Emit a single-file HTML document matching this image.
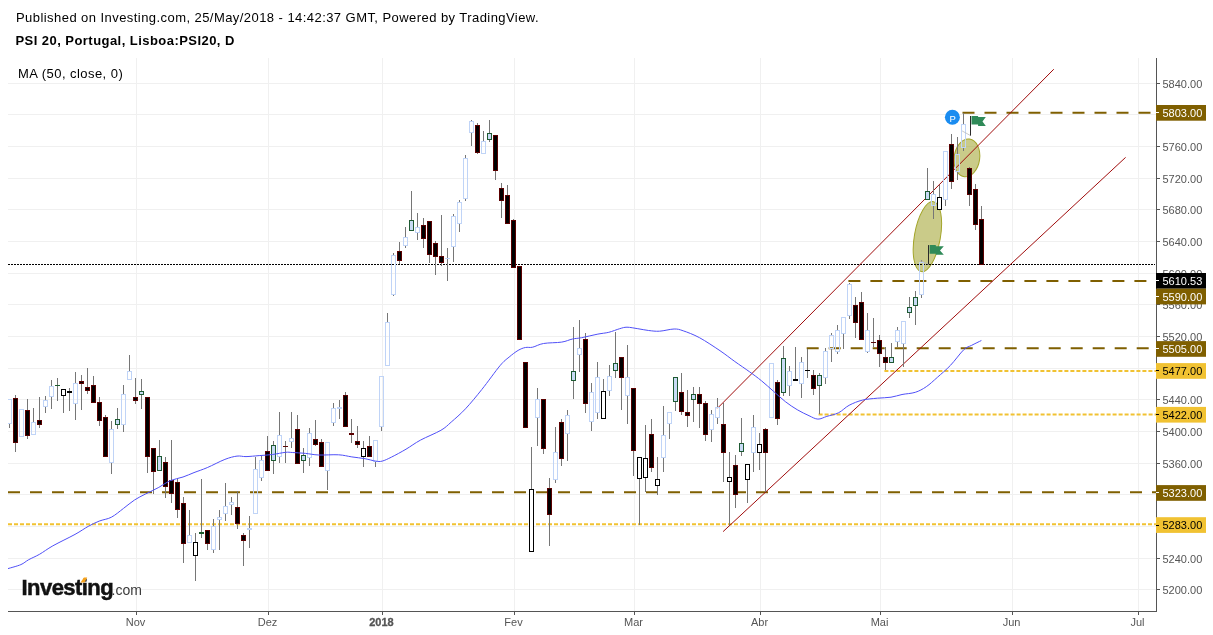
<!DOCTYPE html>
<html><head><meta charset="utf-8"><style>
html,body{margin:0;padding:0;background:#fff;}
body{width:1213px;height:635px;overflow:hidden;position:relative;font-family:"Liberation Sans",sans-serif;}
svg{position:absolute;left:0;top:0;will-change:transform;}
</style></head><body>
<svg width="1213" height="635" viewBox="0 0 1213 635">
<text x="16" y="22" font-family="Liberation Sans" font-size="13" letter-spacing="0.44" fill="#000">Published on Investing.com, 25/May/2018 - 14:42:37 GMT, Powered by TradingView.</text>
<text x="15.5" y="45" font-family="Liberation Sans" font-size="13" font-weight="bold" letter-spacing="0.45" fill="#000">PSI 20, Portugal, Lisboa:PSI20, D</text>
<g stroke="#f0f0f0" stroke-width="1"><line x1="8" y1="589.5" x2="1156" y2="589.5"/><line x1="8" y1="558.5" x2="1156" y2="558.5"/><line x1="8" y1="526.5" x2="1156" y2="526.5"/><line x1="8" y1="494.5" x2="1156" y2="494.5"/><line x1="8" y1="463.5" x2="1156" y2="463.5"/><line x1="8" y1="431.5" x2="1156" y2="431.5"/><line x1="8" y1="399.5" x2="1156" y2="399.5"/><line x1="8" y1="368.5" x2="1156" y2="368.5"/><line x1="8" y1="336.5" x2="1156" y2="336.5"/><line x1="8" y1="304.5" x2="1156" y2="304.5"/><line x1="8" y1="273.5" x2="1156" y2="273.5"/><line x1="8" y1="241.5" x2="1156" y2="241.5"/><line x1="8" y1="209.5" x2="1156" y2="209.5"/><line x1="8" y1="178.5" x2="1156" y2="178.5"/><line x1="8" y1="146.5" x2="1156" y2="146.5"/><line x1="8" y1="114.5" x2="1156" y2="114.5"/><line x1="8" y1="83.5" x2="1156" y2="83.5"/><line x1="136.5" y1="58" x2="136.5" y2="611"/><line x1="268.5" y1="58" x2="268.5" y2="611"/><line x1="382.5" y1="58" x2="382.5" y2="611"/><line x1="514.5" y1="58" x2="514.5" y2="611"/><line x1="634.5" y1="58" x2="634.5" y2="611"/><line x1="760.5" y1="58" x2="760.5" y2="611"/><line x1="880.5" y1="58" x2="880.5" y2="611"/><line x1="1012.5" y1="58" x2="1012.5" y2="611"/><line x1="1138.5" y1="58" x2="1138.5" y2="611"/></g>
<line x1="8" y1="492.2" x2="1156" y2="492.2" stroke="#7f5f00" stroke-width="2" stroke-dasharray="12 10"/>
<line x1="8" y1="524.3" x2="1156" y2="524.3" stroke="#f1c232" stroke-width="2" stroke-dasharray="4 2"/>
<ellipse cx="927.4" cy="236.6" rx="13" ry="35.5" transform="rotate(10 927.4 236.6)" fill="rgba(150,152,20,0.5)" stroke="#a3a52a" stroke-width="1"/>
<ellipse cx="966.9" cy="157.9" rx="12.8" ry="19" transform="rotate(8 966.9 157.9)" fill="rgba(150,152,20,0.5)" stroke="#a3a52a" stroke-width="1"/>
<line x1="962.5" y1="112.7" x2="1156" y2="112.7" stroke="#7f5f00" stroke-width="2" stroke-dasharray="12 10"/>
<line x1="848.4" y1="281.1" x2="1156" y2="281.1" stroke="#7f5f00" stroke-width="2" stroke-dasharray="12 10"/>
<line x1="806.7" y1="348.3" x2="1156" y2="348.3" stroke="#7f5f00" stroke-width="2" stroke-dasharray="12 10"/>
<line x1="884.4" y1="370.9" x2="1156" y2="370.9" stroke="#f1c232" stroke-width="2" stroke-dasharray="4 2"/>
<line x1="818.6" y1="414.4" x2="1156" y2="414.4" stroke="#f1c232" stroke-width="2" stroke-dasharray="4 2"/>
<line x1="8" y1="264.5" x2="1155" y2="264.5" stroke="#000" stroke-width="1" stroke-dasharray="2 1"/>
<line x1="717.4" y1="408.3" x2="1053.8" y2="69.2" stroke="#a00c0c" stroke-width="1"/>
<line x1="723.1" y1="531.6" x2="1125.6" y2="157.4" stroke="#a00c0c" stroke-width="1"/>
<defs><clipPath id="cc"><rect x="8" y="58" width="1148" height="553"/></clipPath></defs>
<g shape-rendering="crispEdges" clip-path="url(#cc)"><line x1="9.5" y1="424" x2="9.5" y2="428.0" stroke="#767676"/><rect x="7.5" y="399.5" width="4" height="24" fill="none" stroke="#c0d4f7" stroke-width="1"/><line x1="15.5" y1="395.2" x2="15.5" y2="398" stroke="#767676"/><line x1="15.5" y1="443" x2="15.5" y2="451.7" stroke="#767676"/><rect x="13.0" y="398" width="5" height="45" fill="#5a0000"/><rect x="14.0" y="399" width="3" height="43" fill="#000"/><rect x="19.5" y="409.5" width="4" height="27" fill="none" stroke="#c0d4f7" stroke-width="1"/><line x1="27.5" y1="399.0" x2="27.5" y2="410" stroke="#767676"/><line x1="27.5" y1="436" x2="27.5" y2="438.6" stroke="#767676"/><rect x="25.0" y="410" width="5" height="26" fill="#5a0000"/><rect x="26.0" y="411" width="3" height="24" fill="#000"/><line x1="33.5" y1="408.0" x2="33.5" y2="422" stroke="#767676"/><rect x="31.5" y="422.5" width="4" height="12" fill="none" stroke="#c0d4f7" stroke-width="1"/><line x1="39.5" y1="397.0" x2="39.5" y2="420" stroke="#767676"/><line x1="39.5" y1="425" x2="39.5" y2="428.0" stroke="#767676"/><rect x="37.0" y="420" width="5" height="5" fill="#5a0000"/><rect x="38.0" y="421" width="3" height="3" fill="#000"/><line x1="45.5" y1="396.0" x2="45.5" y2="400" stroke="#767676"/><line x1="45.5" y1="407" x2="45.5" y2="412.8" stroke="#767676"/><rect x="43.5" y="400.5" width="4" height="6" fill="none" stroke="#c0d4f7" stroke-width="1"/><line x1="51.5" y1="380.0" x2="51.5" y2="386" stroke="#767676"/><line x1="51.5" y1="397" x2="51.5" y2="408.9" stroke="#767676"/><rect x="49.5" y="386.5" width="4" height="10" fill="none" stroke="#c0d4f7" stroke-width="1"/><line x1="57.5" y1="378.0" x2="57.5" y2="401.0" stroke="#767676"/><line x1="55.0" y1="385.5" x2="60.0" y2="385.5" stroke="#1d5a2e" stroke-width="1"/><line x1="63.5" y1="396" x2="63.5" y2="412.8" stroke="#767676"/><rect x="61.5" y="389.5" width="4" height="6" fill="#fff" stroke="#000" stroke-width="1"/><line x1="69.5" y1="388.0" x2="69.5" y2="410.9" stroke="#767676"/><line x1="67.0" y1="392" x2="72.0" y2="392" stroke="#000" stroke-width="2"/><line x1="75.5" y1="372.0" x2="75.5" y2="383" stroke="#767676"/><line x1="75.5" y1="404" x2="75.5" y2="419.8" stroke="#767676"/><rect x="73.5" y="383.5" width="4" height="20" fill="none" stroke="#c0d4f7" stroke-width="1"/><line x1="81.5" y1="375.0" x2="81.5" y2="381" stroke="#767676"/><line x1="81.5" y1="384" x2="81.5" y2="410.0" stroke="#767676"/><rect x="79.0" y="381" width="5" height="3" fill="#5a0000"/><rect x="80.0" y="382" width="3" height="1" fill="#000"/><line x1="87.5" y1="368.0" x2="87.5" y2="387" stroke="#767676"/><line x1="87.5" y1="391" x2="87.5" y2="394.0" stroke="#767676"/><rect x="85.0" y="387" width="5" height="4" fill="#5a0000"/><rect x="86.0" y="388" width="3" height="2" fill="#000"/><line x1="93.5" y1="376.0" x2="93.5" y2="385" stroke="#767676"/><rect x="91.0" y="385" width="5" height="18" fill="#5a0000"/><rect x="92.0" y="386" width="3" height="16" fill="#000"/><line x1="99.5" y1="397.0" x2="99.5" y2="402" stroke="#767676"/><line x1="99.5" y1="421" x2="99.5" y2="425.7" stroke="#767676"/><rect x="97.0" y="402" width="5" height="19" fill="#5a0000"/><rect x="98.0" y="403" width="3" height="17" fill="#000"/><line x1="105.5" y1="415.0" x2="105.5" y2="417" stroke="#767676"/><rect x="103.0" y="417" width="5" height="40" fill="#5a0000"/><rect x="104.0" y="418" width="3" height="38" fill="#000"/><line x1="111.5" y1="421.0" x2="111.5" y2="429" stroke="#767676"/><line x1="111.5" y1="463" x2="111.5" y2="473.9" stroke="#767676"/><rect x="109.5" y="429.5" width="4" height="33" fill="none" stroke="#c0d4f7" stroke-width="1"/><line x1="117.5" y1="408.0" x2="117.5" y2="419" stroke="#767676"/><line x1="117.5" y1="425" x2="117.5" y2="428.7" stroke="#767676"/><rect x="115.5" y="419.5" width="4" height="5" fill="#c9dbf5" stroke="#1e5a32" stroke-width="1"/><line x1="123.5" y1="385.0" x2="123.5" y2="394" stroke="#767676"/><line x1="123.5" y1="425" x2="123.5" y2="431.7" stroke="#767676"/><rect x="121.5" y="394.5" width="4" height="30" fill="none" stroke="#c0d4f7" stroke-width="1"/><line x1="129.5" y1="355.0" x2="129.5" y2="371" stroke="#767676"/><rect x="127.5" y="371.5" width="4" height="8" fill="none" stroke="#c0d4f7" stroke-width="1"/><line x1="135.5" y1="378.0" x2="135.5" y2="397" stroke="#767676"/><line x1="135.5" y1="401" x2="135.5" y2="404.0" stroke="#767676"/><rect x="133.0" y="397" width="5" height="4" fill="#5a0000"/><rect x="134.0" y="398" width="3" height="2" fill="#000"/><line x1="141.5" y1="379.0" x2="141.5" y2="391" stroke="#767676"/><line x1="141.5" y1="395" x2="141.5" y2="409.0" stroke="#767676"/><rect x="139.5" y="391.5" width="4" height="3" fill="#c9dbf5" stroke="#1e5a32" stroke-width="1"/><line x1="147.5" y1="457" x2="147.5" y2="472.9" stroke="#767676"/><rect x="145.0" y="397" width="5" height="60" fill="#5a0000"/><rect x="146.0" y="398" width="3" height="58" fill="#000"/><line x1="153.5" y1="472" x2="153.5" y2="493.7" stroke="#767676"/><rect x="151.0" y="448" width="5" height="24" fill="#5a0000"/><rect x="152.0" y="449" width="3" height="22" fill="#000"/><line x1="159.5" y1="439.8" x2="159.5" y2="456" stroke="#767676"/><rect x="157.5" y="456.5" width="4" height="14" fill="#c9dbf5" stroke="#1e5a32" stroke-width="1"/><line x1="165.5" y1="457.0" x2="165.5" y2="462" stroke="#767676"/><line x1="165.5" y1="487" x2="165.5" y2="497.7" stroke="#767676"/><rect x="163.0" y="462" width="5" height="25" fill="#5a0000"/><rect x="164.0" y="463" width="3" height="23" fill="#000"/><line x1="171.5" y1="439.8" x2="171.5" y2="480" stroke="#767676"/><line x1="171.5" y1="494" x2="171.5" y2="502.6" stroke="#767676"/><rect x="169.0" y="480" width="5" height="14" fill="#5a0000"/><rect x="170.0" y="481" width="3" height="12" fill="#000"/><line x1="177.5" y1="478.8" x2="177.5" y2="482" stroke="#767676"/><line x1="177.5" y1="510" x2="177.5" y2="518.0" stroke="#767676"/><rect x="175.0" y="482" width="5" height="28" fill="#5a0000"/><rect x="176.0" y="483" width="3" height="26" fill="#000"/><line x1="183.5" y1="497.0" x2="183.5" y2="503" stroke="#767676"/><line x1="183.5" y1="544" x2="183.5" y2="562.7" stroke="#767676"/><rect x="181.0" y="503" width="5" height="41" fill="#5a0000"/><rect x="182.0" y="504" width="3" height="39" fill="#000"/><line x1="189.5" y1="510.0" x2="189.5" y2="535" stroke="#767676"/><rect x="187.5" y="535.5" width="4" height="7" fill="none" stroke="#c0d4f7" stroke-width="1"/><line x1="195.5" y1="533.4" x2="195.5" y2="542" stroke="#767676"/><line x1="195.5" y1="556" x2="195.5" y2="581.4" stroke="#767676"/><rect x="193.5" y="542.5" width="4" height="13" fill="#fff" stroke="#000" stroke-width="1"/><line x1="201.5" y1="479.2" x2="201.5" y2="537.8" stroke="#767676"/><line x1="199.0" y1="533" x2="204.0" y2="533" stroke="#1d5a2e" stroke-width="2"/><line x1="207.5" y1="544" x2="207.5" y2="549.7" stroke="#767676"/><rect x="205.0" y="530" width="5" height="14" fill="#5a0000"/><rect x="206.0" y="531" width="3" height="12" fill="#000"/><line x1="213.5" y1="519.0" x2="213.5" y2="526" stroke="#767676"/><line x1="213.5" y1="550" x2="213.5" y2="552.6" stroke="#767676"/><rect x="211.5" y="526.5" width="4" height="23" fill="none" stroke="#c0d4f7" stroke-width="1"/><line x1="219.5" y1="510.0" x2="219.5" y2="517" stroke="#767676"/><line x1="219.5" y1="520" x2="219.5" y2="549.7" stroke="#767676"/><rect x="217.5" y="517.5" width="4" height="2" fill="none" stroke="#c0d4f7" stroke-width="1"/><line x1="225.5" y1="483.2" x2="225.5" y2="506" stroke="#767676"/><line x1="225.5" y1="514" x2="225.5" y2="520.9" stroke="#767676"/><rect x="223.5" y="506.5" width="4" height="7" fill="none" stroke="#c0d4f7" stroke-width="1"/><line x1="231.5" y1="497.0" x2="231.5" y2="502" stroke="#767676"/><line x1="231.5" y1="505" x2="231.5" y2="515.0" stroke="#767676"/><rect x="229.5" y="502.5" width="4" height="2" fill="none" stroke="#c0d4f7" stroke-width="1"/><line x1="237.5" y1="491.0" x2="237.5" y2="507" stroke="#767676"/><line x1="237.5" y1="524" x2="237.5" y2="528.8" stroke="#767676"/><rect x="235.0" y="507" width="5" height="17" fill="#5a0000"/><rect x="236.0" y="508" width="3" height="15" fill="#000"/><line x1="243.5" y1="533.4" x2="243.5" y2="535" stroke="#767676"/><line x1="243.5" y1="541" x2="243.5" y2="565.5" stroke="#767676"/><rect x="241.0" y="535" width="5" height="6" fill="#5a0000"/><rect x="242.0" y="536" width="3" height="4" fill="#000"/><line x1="249.5" y1="516.1" x2="249.5" y2="528" stroke="#767676"/><line x1="249.5" y1="530" x2="249.5" y2="547.9" stroke="#767676"/><rect x="247.5" y="528.5" width="4" height="1" fill="none" stroke="#c0d4f7" stroke-width="1"/><line x1="255.5" y1="456.9" x2="255.5" y2="469" stroke="#767676"/><rect x="253.5" y="469.5" width="4" height="44" fill="none" stroke="#c0d4f7" stroke-width="1"/><line x1="261.5" y1="456.1" x2="261.5" y2="460" stroke="#767676"/><line x1="261.5" y1="478" x2="261.5" y2="480.8" stroke="#767676"/><rect x="259.5" y="460.5" width="4" height="17" fill="none" stroke="#c0d4f7" stroke-width="1"/><line x1="267.5" y1="436.0" x2="267.5" y2="451" stroke="#767676"/><rect x="265.0" y="451" width="5" height="20" fill="#5a0000"/><rect x="266.0" y="452" width="3" height="18" fill="#000"/><line x1="273.5" y1="441.0" x2="273.5" y2="445" stroke="#767676"/><line x1="273.5" y1="461" x2="273.5" y2="473.7" stroke="#767676"/><rect x="271.5" y="445.5" width="4" height="15" fill="#c9dbf5" stroke="#1e5a32" stroke-width="1"/><line x1="279.5" y1="411.9" x2="279.5" y2="435" stroke="#767676"/><line x1="279.5" y1="457" x2="279.5" y2="462.7" stroke="#767676"/><rect x="277.5" y="435.5" width="4" height="21" fill="none" stroke="#c0d4f7" stroke-width="1"/><line x1="285.5" y1="441.0" x2="285.5" y2="462.7" stroke="#767676"/><line x1="283.0" y1="446.5" x2="288.0" y2="446.5" stroke="#5a0a0a" stroke-width="1"/><line x1="291.5" y1="411.9" x2="291.5" y2="438" stroke="#767676"/><line x1="291.5" y1="442" x2="291.5" y2="447.6" stroke="#767676"/><rect x="289.5" y="438.5" width="4" height="3" fill="none" stroke="#c0d4f7" stroke-width="1"/><line x1="297.5" y1="415.1" x2="297.5" y2="429" stroke="#767676"/><rect x="295.0" y="429" width="5" height="35" fill="#5a0000"/><rect x="296.0" y="430" width="3" height="33" fill="#000"/><line x1="303.5" y1="447.9" x2="303.5" y2="455" stroke="#767676"/><line x1="303.5" y1="461" x2="303.5" y2="472.8" stroke="#767676"/><rect x="301.5" y="455.5" width="4" height="5" fill="#c9dbf5" stroke="#1e5a32" stroke-width="1"/><line x1="309.5" y1="428.0" x2="309.5" y2="433" stroke="#767676"/><line x1="309.5" y1="458" x2="309.5" y2="465.7" stroke="#767676"/><rect x="307.5" y="433.5" width="4" height="24" fill="none" stroke="#c0d4f7" stroke-width="1"/><line x1="315.5" y1="419.9" x2="315.5" y2="439" stroke="#767676"/><line x1="315.5" y1="445" x2="315.5" y2="445.5" stroke="#767676"/><rect x="313.0" y="439" width="5" height="6" fill="#5a0000"/><rect x="314.0" y="440" width="3" height="4" fill="#000"/><line x1="321.5" y1="439.0" x2="321.5" y2="442" stroke="#767676"/><rect x="319.0" y="442" width="5" height="25" fill="#5a0000"/><rect x="320.0" y="443" width="3" height="23" fill="#000"/><line x1="327.5" y1="471" x2="327.5" y2="489.8" stroke="#767676"/><rect x="325.5" y="442.5" width="4" height="28" fill="none" stroke="#c0d4f7" stroke-width="1"/><line x1="333.5" y1="403.0" x2="333.5" y2="408" stroke="#767676"/><line x1="333.5" y1="423" x2="333.5" y2="425.8" stroke="#767676"/><rect x="331.5" y="408.5" width="4" height="14" fill="none" stroke="#c0d4f7" stroke-width="1"/><line x1="339.5" y1="400.0" x2="339.5" y2="407" stroke="#767676"/><line x1="339.5" y1="409" x2="339.5" y2="418.8" stroke="#767676"/><rect x="337.5" y="407.5" width="4" height="1" fill="none" stroke="#c0d4f7" stroke-width="1"/><line x1="345.5" y1="392.1" x2="345.5" y2="395" stroke="#767676"/><rect x="343.0" y="395" width="5" height="32" fill="#5a0000"/><rect x="344.0" y="396" width="3" height="30" fill="#000"/><line x1="351.5" y1="419.0" x2="351.5" y2="433" stroke="#767676"/><line x1="351.5" y1="435" x2="351.5" y2="442.9" stroke="#767676"/><rect x="349.0" y="433" width="5" height="2" fill="#5a0000"/><line x1="357.5" y1="426.1" x2="357.5" y2="441" stroke="#767676"/><line x1="357.5" y1="445" x2="357.5" y2="447.9" stroke="#767676"/><rect x="355.0" y="441" width="5" height="4" fill="#5a0000"/><rect x="356.0" y="442" width="3" height="2" fill="#000"/><line x1="363.5" y1="441.0" x2="363.5" y2="448" stroke="#767676"/><line x1="363.5" y1="457" x2="363.5" y2="466.7" stroke="#767676"/><rect x="361.5" y="448.5" width="4" height="8" fill="#fff" stroke="#000" stroke-width="1"/><line x1="369.5" y1="436.3" x2="369.5" y2="446" stroke="#767676"/><rect x="367.0" y="446" width="5" height="11" fill="#5a0000"/><rect x="368.0" y="447" width="3" height="9" fill="#000"/><line x1="375.5" y1="462" x2="375.5" y2="466.7" stroke="#767676"/><rect x="373.5" y="440.5" width="4" height="21" fill="none" stroke="#c0d4f7" stroke-width="1"/><line x1="381.5" y1="427" x2="381.5" y2="430.7" stroke="#767676"/><rect x="379.5" y="376.5" width="4" height="50" fill="none" stroke="#c0d4f7" stroke-width="1"/><line x1="387.5" y1="312.9" x2="387.5" y2="322" stroke="#767676"/><rect x="385.5" y="322.5" width="4" height="43" fill="none" stroke="#c0d4f7" stroke-width="1"/><line x1="393.5" y1="253.3" x2="393.5" y2="255" stroke="#767676"/><line x1="393.5" y1="295" x2="393.5" y2="296.2" stroke="#767676"/><rect x="391.5" y="255.5" width="4" height="39" fill="none" stroke="#c0d4f7" stroke-width="1"/><line x1="399.5" y1="242.0" x2="399.5" y2="251" stroke="#767676"/><line x1="399.5" y1="261" x2="399.5" y2="264.1" stroke="#767676"/><rect x="397.0" y="251" width="5" height="10" fill="#5a0000"/><rect x="398.0" y="252" width="3" height="8" fill="#000"/><line x1="405.5" y1="227.2" x2="405.5" y2="237" stroke="#767676"/><line x1="405.5" y1="246" x2="405.5" y2="248.4" stroke="#767676"/><rect x="403.5" y="237.5" width="4" height="8" fill="none" stroke="#c0d4f7" stroke-width="1"/><line x1="411.5" y1="191.3" x2="411.5" y2="220" stroke="#767676"/><rect x="409.5" y="220.5" width="4" height="10" fill="#c9dbf5" stroke="#1e5a32" stroke-width="1"/><line x1="417.5" y1="213.1" x2="417.5" y2="227" stroke="#767676"/><line x1="417.5" y1="233" x2="417.5" y2="239.5" stroke="#767676"/><rect x="415.5" y="227.5" width="4" height="5" fill="none" stroke="#c0d4f7" stroke-width="1"/><line x1="423.5" y1="218.2" x2="423.5" y2="225" stroke="#767676"/><line x1="423.5" y1="239" x2="423.5" y2="247.7" stroke="#767676"/><rect x="421.0" y="225" width="5" height="14" fill="#5a0000"/><rect x="422.0" y="226" width="3" height="12" fill="#000"/><line x1="429.5" y1="255" x2="429.5" y2="262.6" stroke="#767676"/><rect x="427.0" y="221" width="5" height="34" fill="#5a0000"/><rect x="428.0" y="222" width="3" height="32" fill="#000"/><line x1="435.5" y1="241.4" x2="435.5" y2="243" stroke="#767676"/><line x1="435.5" y1="257" x2="435.5" y2="274.5" stroke="#767676"/><rect x="433.0" y="243" width="5" height="14" fill="#5a0000"/><rect x="434.0" y="244" width="3" height="12" fill="#000"/><line x1="441.5" y1="215.0" x2="441.5" y2="256" stroke="#767676"/><line x1="441.5" y1="263" x2="441.5" y2="266.4" stroke="#767676"/><rect x="439.0" y="256" width="5" height="7" fill="#5a0000"/><rect x="440.0" y="257" width="3" height="5" fill="#000"/><line x1="447.5" y1="248.0" x2="447.5" y2="280.5" stroke="#767676"/><line x1="445.0" y1="258.5" x2="450.0" y2="258.5" stroke="#c0d4f7" stroke-width="1"/><line x1="453.5" y1="214.4" x2="453.5" y2="216" stroke="#767676"/><line x1="453.5" y1="247" x2="453.5" y2="261.6" stroke="#767676"/><rect x="451.5" y="216.5" width="4" height="30" fill="none" stroke="#c0d4f7" stroke-width="1"/><line x1="459.5" y1="199.8" x2="459.5" y2="202" stroke="#767676"/><line x1="459.5" y1="224" x2="459.5" y2="231.6" stroke="#767676"/><rect x="457.5" y="202.5" width="4" height="21" fill="none" stroke="#c0d4f7" stroke-width="1"/><line x1="465.5" y1="155.0" x2="465.5" y2="158" stroke="#767676"/><line x1="465.5" y1="199" x2="465.5" y2="200.7" stroke="#767676"/><rect x="463.5" y="158.5" width="4" height="40" fill="none" stroke="#c0d4f7" stroke-width="1"/><line x1="471.5" y1="119.8" x2="471.5" y2="121" stroke="#767676"/><line x1="471.5" y1="133" x2="471.5" y2="145.9" stroke="#767676"/><rect x="469.5" y="121.5" width="4" height="11" fill="none" stroke="#c0d4f7" stroke-width="1"/><line x1="477.5" y1="123.2" x2="477.5" y2="125" stroke="#767676"/><line x1="477.5" y1="153" x2="477.5" y2="153.8" stroke="#767676"/><rect x="475.0" y="125" width="5" height="28" fill="#5a0000"/><rect x="476.0" y="126" width="3" height="26" fill="#000"/><line x1="483.5" y1="130.8" x2="483.5" y2="141" stroke="#767676"/><rect x="481.5" y="141.5" width="4" height="12" fill="none" stroke="#c0d4f7" stroke-width="1"/><line x1="489.5" y1="119.8" x2="489.5" y2="133" stroke="#767676"/><line x1="489.5" y1="140" x2="489.5" y2="141.7" stroke="#767676"/><rect x="487.5" y="133.5" width="4" height="6" fill="#c9dbf5" stroke="#1e5a32" stroke-width="1"/><line x1="495.5" y1="171" x2="495.5" y2="179.9" stroke="#767676"/><rect x="493.0" y="135" width="5" height="36" fill="#5a0000"/><rect x="494.0" y="136" width="3" height="34" fill="#000"/><line x1="501.5" y1="183.1" x2="501.5" y2="188" stroke="#767676"/><line x1="501.5" y1="201" x2="501.5" y2="218.1" stroke="#767676"/><rect x="499.0" y="188" width="5" height="13" fill="#5a0000"/><rect x="500.0" y="189" width="3" height="11" fill="#000"/><line x1="507.5" y1="185.0" x2="507.5" y2="195" stroke="#767676"/><rect x="505.0" y="195" width="5" height="29" fill="#5a0000"/><rect x="506.0" y="196" width="3" height="27" fill="#000"/><line x1="513.5" y1="219.1" x2="513.5" y2="220" stroke="#767676"/><rect x="511.0" y="220" width="5" height="48" fill="#5a0000"/><rect x="512.0" y="221" width="3" height="46" fill="#000"/><rect x="517.0" y="266" width="5" height="74" fill="#5a0000"/><rect x="518.0" y="267" width="3" height="72" fill="#000"/><rect x="523.0" y="362" width="5" height="66" fill="#5a0000"/><rect x="524.0" y="363" width="3" height="64" fill="#000"/><line x1="531.5" y1="447.1" x2="531.5" y2="489" stroke="#767676"/><rect x="529.5" y="489.5" width="4" height="62" fill="#fff" stroke="#000" stroke-width="1"/><line x1="537.5" y1="388.0" x2="537.5" y2="399" stroke="#767676"/><line x1="537.5" y1="418" x2="537.5" y2="445.8" stroke="#767676"/><rect x="535.5" y="399.5" width="4" height="18" fill="none" stroke="#c0d4f7" stroke-width="1"/><line x1="543.5" y1="449" x2="543.5" y2="453.7" stroke="#767676"/><rect x="541.0" y="399" width="5" height="50" fill="#5a0000"/><rect x="542.0" y="400" width="3" height="48" fill="#000"/><line x1="549.5" y1="478.2" x2="549.5" y2="488" stroke="#767676"/><line x1="549.5" y1="515" x2="549.5" y2="545.6" stroke="#767676"/><rect x="547.0" y="488" width="5" height="27" fill="#5a0000"/><rect x="548.0" y="489" width="3" height="25" fill="#000"/><line x1="555.5" y1="427.0" x2="555.5" y2="452" stroke="#767676"/><line x1="555.5" y1="480" x2="555.5" y2="482.6" stroke="#767676"/><rect x="553.5" y="452.5" width="4" height="27" fill="none" stroke="#c0d4f7" stroke-width="1"/><line x1="561.5" y1="418.8" x2="561.5" y2="422" stroke="#767676"/><line x1="561.5" y1="459" x2="561.5" y2="465.6" stroke="#767676"/><rect x="559.0" y="422" width="5" height="37" fill="#5a0000"/><rect x="560.0" y="423" width="3" height="35" fill="#000"/><line x1="567.5" y1="410.1" x2="567.5" y2="415" stroke="#767676"/><line x1="567.5" y1="434" x2="567.5" y2="460.7" stroke="#767676"/><rect x="565.5" y="415.5" width="4" height="18" fill="none" stroke="#c0d4f7" stroke-width="1"/><line x1="573.5" y1="327.2" x2="573.5" y2="371" stroke="#767676"/><line x1="573.5" y1="381" x2="573.5" y2="399.0" stroke="#767676"/><rect x="571.5" y="371.5" width="4" height="9" fill="#c9dbf5" stroke="#1e5a32" stroke-width="1"/><line x1="579.5" y1="320.0" x2="579.5" y2="348" stroke="#767676"/><line x1="579.5" y1="355" x2="579.5" y2="371.9" stroke="#767676"/><rect x="577.5" y="348.5" width="4" height="6" fill="none" stroke="#c0d4f7" stroke-width="1"/><line x1="585.5" y1="333.1" x2="585.5" y2="339" stroke="#767676"/><line x1="585.5" y1="404" x2="585.5" y2="412.7" stroke="#767676"/><rect x="583.0" y="339" width="5" height="65" fill="#5a0000"/><rect x="584.0" y="340" width="3" height="63" fill="#000"/><line x1="591.5" y1="383.1" x2="591.5" y2="392" stroke="#767676"/><line x1="591.5" y1="422" x2="591.5" y2="430.7" stroke="#767676"/><rect x="589.5" y="392.5" width="4" height="29" fill="none" stroke="#c0d4f7" stroke-width="1"/><line x1="597.5" y1="362.0" x2="597.5" y2="377" stroke="#767676"/><line x1="597.5" y1="413" x2="597.5" y2="418.7" stroke="#767676"/><rect x="595.5" y="377.5" width="4" height="35" fill="none" stroke="#c0d4f7" stroke-width="1"/><line x1="603.5" y1="379.1" x2="603.5" y2="391" stroke="#767676"/><rect x="601.5" y="391.5" width="4" height="27" fill="#fff" stroke="#000" stroke-width="1"/><line x1="609.5" y1="365.0" x2="609.5" y2="376" stroke="#767676"/><line x1="609.5" y1="391" x2="609.5" y2="395.7" stroke="#767676"/><rect x="607.5" y="376.5" width="4" height="14" fill="none" stroke="#c0d4f7" stroke-width="1"/><line x1="615.5" y1="331.9" x2="615.5" y2="363" stroke="#767676"/><line x1="615.5" y1="371" x2="615.5" y2="377.8" stroke="#767676"/><rect x="613.5" y="363.5" width="4" height="7" fill="#c9dbf5" stroke="#1e5a32" stroke-width="1"/><line x1="621.5" y1="378" x2="621.5" y2="409.9" stroke="#767676"/><rect x="619.0" y="357" width="5" height="21" fill="#5a0000"/><rect x="620.0" y="358" width="3" height="19" fill="#000"/><line x1="627.5" y1="345.1" x2="627.5" y2="377" stroke="#767676"/><line x1="627.5" y1="396" x2="627.5" y2="423.7" stroke="#767676"/><rect x="625.5" y="377.5" width="4" height="18" fill="none" stroke="#c0d4f7" stroke-width="1"/><line x1="633.5" y1="451" x2="633.5" y2="476.4" stroke="#767676"/><rect x="631.0" y="388" width="5" height="63" fill="#5a0000"/><rect x="632.0" y="389" width="3" height="61" fill="#000"/><line x1="639.5" y1="479" x2="639.5" y2="524.5" stroke="#767676"/><rect x="637.5" y="457.5" width="4" height="21" fill="#fff" stroke="#000" stroke-width="1"/><line x1="645.5" y1="425.0" x2="645.5" y2="458" stroke="#767676"/><line x1="645.5" y1="478" x2="645.5" y2="492.3" stroke="#767676"/><rect x="643.5" y="458.5" width="4" height="19" fill="#fff" stroke="#000" stroke-width="1"/><line x1="651.5" y1="419.1" x2="651.5" y2="434" stroke="#767676"/><line x1="651.5" y1="468" x2="651.5" y2="471.7" stroke="#767676"/><rect x="649.0" y="434" width="5" height="34" fill="#5a0000"/><rect x="650.0" y="435" width="3" height="32" fill="#000"/><line x1="657.5" y1="457.1" x2="657.5" y2="479" stroke="#767676"/><line x1="657.5" y1="486" x2="657.5" y2="494.5" stroke="#767676"/><rect x="655.5" y="479.5" width="4" height="6" fill="#fff" stroke="#000" stroke-width="1"/><line x1="663.5" y1="406.0" x2="663.5" y2="435" stroke="#767676"/><line x1="663.5" y1="458" x2="663.5" y2="471.7" stroke="#767676"/><rect x="661.5" y="435.5" width="4" height="22" fill="none" stroke="#c0d4f7" stroke-width="1"/><line x1="669.5" y1="424" x2="669.5" y2="438.8" stroke="#767676"/><rect x="667.5" y="412.5" width="4" height="11" fill="none" stroke="#c0d4f7" stroke-width="1"/><line x1="675.5" y1="376.5" x2="675.5" y2="377" stroke="#767676"/><line x1="675.5" y1="402" x2="675.5" y2="410.6" stroke="#767676"/><rect x="673.5" y="377.5" width="4" height="24" fill="#c9dbf5" stroke="#1e5a32" stroke-width="1"/><line x1="681.5" y1="373.0" x2="681.5" y2="392" stroke="#767676"/><line x1="681.5" y1="412" x2="681.5" y2="414.6" stroke="#767676"/><rect x="679.0" y="392" width="5" height="20" fill="#5a0000"/><rect x="680.0" y="393" width="3" height="18" fill="#000"/><line x1="687.5" y1="390.1" x2="687.5" y2="412" stroke="#767676"/><line x1="687.5" y1="416" x2="687.5" y2="426.8" stroke="#767676"/><rect x="685.0" y="412" width="5" height="4" fill="#5a0000"/><rect x="686.0" y="413" width="3" height="2" fill="#000"/><line x1="693.5" y1="387.1" x2="693.5" y2="394" stroke="#767676"/><line x1="693.5" y1="400" x2="693.5" y2="421.8" stroke="#767676"/><rect x="691.5" y="394.5" width="4" height="5" fill="#c9dbf5" stroke="#1e5a32" stroke-width="1"/><line x1="699.5" y1="387.1" x2="699.5" y2="394" stroke="#767676"/><line x1="699.5" y1="404" x2="699.5" y2="427.8" stroke="#767676"/><rect x="697.0" y="394" width="5" height="10" fill="#5a0000"/><rect x="698.0" y="395" width="3" height="8" fill="#000"/><line x1="705.5" y1="401.3" x2="705.5" y2="403" stroke="#767676"/><line x1="705.5" y1="435" x2="705.5" y2="440.6" stroke="#767676"/><rect x="703.0" y="403" width="5" height="32" fill="#5a0000"/><rect x="704.0" y="404" width="3" height="30" fill="#000"/><line x1="711.5" y1="410.2" x2="711.5" y2="414" stroke="#767676"/><line x1="711.5" y1="430" x2="711.5" y2="441.6" stroke="#767676"/><rect x="709.5" y="414.5" width="4" height="15" fill="none" stroke="#c0d4f7" stroke-width="1"/><line x1="717.5" y1="398.1" x2="717.5" y2="407" stroke="#767676"/><line x1="717.5" y1="418" x2="717.5" y2="423.7" stroke="#767676"/><rect x="715.5" y="407.5" width="4" height="10" fill="none" stroke="#c0d4f7" stroke-width="1"/><line x1="723.5" y1="403.0" x2="723.5" y2="424" stroke="#767676"/><line x1="723.5" y1="453" x2="723.5" y2="481.6" stroke="#767676"/><rect x="721.0" y="424" width="5" height="29" fill="#5a0000"/><rect x="722.0" y="425" width="3" height="27" fill="#000"/><line x1="729.5" y1="452.2" x2="729.5" y2="477" stroke="#767676"/><line x1="729.5" y1="482" x2="729.5" y2="524.7" stroke="#767676"/><rect x="727.5" y="477.5" width="4" height="4" fill="#fff" stroke="#000" stroke-width="1"/><line x1="735.5" y1="455.1" x2="735.5" y2="465" stroke="#767676"/><line x1="735.5" y1="495" x2="735.5" y2="507.7" stroke="#767676"/><rect x="733.0" y="465" width="5" height="30" fill="#5a0000"/><rect x="734.0" y="466" width="3" height="28" fill="#000"/><line x1="741.5" y1="417.9" x2="741.5" y2="443" stroke="#767676"/><line x1="741.5" y1="452" x2="741.5" y2="455.7" stroke="#767676"/><rect x="739.5" y="443.5" width="4" height="8" fill="#c9dbf5" stroke="#1e5a32" stroke-width="1"/><line x1="747.5" y1="480" x2="747.5" y2="502.6" stroke="#767676"/><rect x="745.5" y="464.5" width="4" height="15" fill="#fff" stroke="#000" stroke-width="1"/><line x1="753.5" y1="415.0" x2="753.5" y2="427" stroke="#767676"/><line x1="753.5" y1="453" x2="753.5" y2="471.6" stroke="#767676"/><rect x="751.5" y="427.5" width="4" height="25" fill="none" stroke="#c0d4f7" stroke-width="1"/><line x1="759.5" y1="433.2" x2="759.5" y2="444" stroke="#767676"/><line x1="759.5" y1="453" x2="759.5" y2="469.6" stroke="#767676"/><rect x="757.5" y="444.5" width="4" height="8" fill="#fff" stroke="#000" stroke-width="1"/><line x1="765.5" y1="428.2" x2="765.5" y2="429" stroke="#767676"/><line x1="765.5" y1="453" x2="765.5" y2="492.2" stroke="#767676"/><rect x="763.0" y="429" width="5" height="24" fill="#5a0000"/><rect x="764.0" y="430" width="3" height="22" fill="#000"/><rect x="769.5" y="363.5" width="4" height="54" fill="none" stroke="#c0d4f7" stroke-width="1"/><line x1="777.5" y1="379.9" x2="777.5" y2="382" stroke="#767676"/><line x1="777.5" y1="419" x2="777.5" y2="424.5" stroke="#767676"/><rect x="775.0" y="382" width="5" height="37" fill="#5a0000"/><rect x="776.0" y="383" width="3" height="35" fill="#000"/><line x1="783.5" y1="346.0" x2="783.5" y2="358" stroke="#767676"/><line x1="783.5" y1="393" x2="783.5" y2="395.5" stroke="#767676"/><rect x="781.5" y="358.5" width="4" height="34" fill="#c9dbf5" stroke="#1e5a32" stroke-width="1"/><line x1="789.5" y1="366.2" x2="789.5" y2="371" stroke="#767676"/><line x1="789.5" y1="386" x2="789.5" y2="395.8" stroke="#767676"/><rect x="787.5" y="371.5" width="4" height="14" fill="none" stroke="#c0d4f7" stroke-width="1"/><line x1="795.5" y1="347.0" x2="795.5" y2="379.7" stroke="#767676"/><line x1="793.0" y1="380" x2="798.0" y2="380" stroke="#000" stroke-width="2"/><line x1="801.5" y1="356.9" x2="801.5" y2="362" stroke="#767676"/><line x1="801.5" y1="384" x2="801.5" y2="397.8" stroke="#767676"/><rect x="799.5" y="362.5" width="4" height="21" fill="none" stroke="#c0d4f7" stroke-width="1"/><line x1="807.5" y1="348.6" x2="807.5" y2="377.7" stroke="#767676"/><line x1="805.0" y1="370.5" x2="810.0" y2="370.5" stroke="#000" stroke-width="1"/><line x1="813.5" y1="370.1" x2="813.5" y2="375" stroke="#767676"/><line x1="813.5" y1="389" x2="813.5" y2="394.9" stroke="#767676"/><rect x="811.0" y="375" width="5" height="14" fill="#5a0000"/><rect x="812.0" y="376" width="3" height="12" fill="#000"/><line x1="819.5" y1="373.0" x2="819.5" y2="375" stroke="#767676"/><line x1="819.5" y1="386" x2="819.5" y2="414.0" stroke="#767676"/><rect x="817.5" y="375.5" width="4" height="10" fill="#c9dbf5" stroke="#1e5a32" stroke-width="1"/><line x1="825.5" y1="348.0" x2="825.5" y2="351" stroke="#767676"/><line x1="825.5" y1="378" x2="825.5" y2="383.6" stroke="#767676"/><rect x="823.5" y="351.5" width="4" height="26" fill="none" stroke="#c0d4f7" stroke-width="1"/><line x1="831.5" y1="333.2" x2="831.5" y2="335" stroke="#767676"/><line x1="831.5" y1="349" x2="831.5" y2="361.8" stroke="#767676"/><rect x="829.5" y="335.5" width="4" height="13" fill="none" stroke="#c0d4f7" stroke-width="1"/><line x1="837.5" y1="324.9" x2="837.5" y2="330" stroke="#767676"/><line x1="837.5" y1="352" x2="837.5" y2="353.6" stroke="#767676"/><rect x="835.5" y="330.5" width="4" height="21" fill="none" stroke="#c0d4f7" stroke-width="1"/><line x1="843.5" y1="334" x2="843.5" y2="349.0" stroke="#767676"/><rect x="841.5" y="317.5" width="4" height="16" fill="none" stroke="#c0d4f7" stroke-width="1"/><line x1="849.5" y1="283.0" x2="849.5" y2="284" stroke="#767676"/><line x1="849.5" y1="316" x2="849.5" y2="318.7" stroke="#767676"/><rect x="847.5" y="284.5" width="4" height="31" fill="none" stroke="#c0d4f7" stroke-width="1"/><line x1="855.5" y1="297.0" x2="855.5" y2="305" stroke="#767676"/><line x1="855.5" y1="323" x2="855.5" y2="338.0" stroke="#767676"/><rect x="853.0" y="305" width="5" height="18" fill="#5a0000"/><rect x="854.0" y="306" width="3" height="16" fill="#000"/><line x1="861.5" y1="292.2" x2="861.5" y2="302" stroke="#767676"/><rect x="859.0" y="302" width="5" height="38" fill="#5a0000"/><rect x="860.0" y="303" width="3" height="36" fill="#000"/><line x1="867.5" y1="313.0" x2="867.5" y2="330" stroke="#767676"/><line x1="867.5" y1="352" x2="867.5" y2="352.6" stroke="#767676"/><rect x="865.5" y="330.5" width="4" height="21" fill="none" stroke="#c0d4f7" stroke-width="1"/><line x1="873.5" y1="318.2" x2="873.5" y2="346.9" stroke="#767676"/><line x1="871.0" y1="342.5" x2="876.0" y2="342.5" stroke="#5a0a0a" stroke-width="1"/><line x1="879.5" y1="335.1" x2="879.5" y2="340" stroke="#767676"/><line x1="879.5" y1="354" x2="879.5" y2="366.5" stroke="#767676"/><rect x="877.0" y="340" width="5" height="14" fill="#5a0000"/><rect x="878.0" y="341" width="3" height="12" fill="#000"/><line x1="885.5" y1="347.1" x2="885.5" y2="357" stroke="#767676"/><line x1="885.5" y1="363" x2="885.5" y2="369.8" stroke="#767676"/><rect x="883.0" y="357" width="5" height="6" fill="#5a0000"/><rect x="884.0" y="358" width="3" height="4" fill="#000"/><line x1="891.5" y1="343.2" x2="891.5" y2="357" stroke="#767676"/><rect x="889.5" y="357.5" width="4" height="5" fill="#c9dbf5" stroke="#1e5a32" stroke-width="1"/><line x1="897.5" y1="327.1" x2="897.5" y2="330" stroke="#767676"/><line x1="897.5" y1="342" x2="897.5" y2="346.7" stroke="#767676"/><rect x="895.5" y="330.5" width="4" height="11" fill="none" stroke="#c0d4f7" stroke-width="1"/><line x1="903.5" y1="344" x2="903.5" y2="366.6" stroke="#767676"/><rect x="901.5" y="321.5" width="4" height="22" fill="none" stroke="#c0d4f7" stroke-width="1"/><line x1="909.5" y1="297.0" x2="909.5" y2="307" stroke="#767676"/><line x1="909.5" y1="313" x2="909.5" y2="317.8" stroke="#767676"/><rect x="907.5" y="307.5" width="4" height="5" fill="#c9dbf5" stroke="#1e5a32" stroke-width="1"/><line x1="915.5" y1="291.0" x2="915.5" y2="297" stroke="#767676"/><line x1="915.5" y1="306" x2="915.5" y2="324.8" stroke="#767676"/><rect x="913.5" y="297.5" width="4" height="8" fill="#c9dbf5" stroke="#1e5a32" stroke-width="1"/><line x1="921.5" y1="260.3" x2="921.5" y2="262" stroke="#767676"/><line x1="921.5" y1="295" x2="921.5" y2="297.7" stroke="#767676"/><rect x="919.5" y="262.5" width="4" height="32" fill="none" stroke="#c0d4f7" stroke-width="1"/><line x1="927.5" y1="168.0" x2="927.5" y2="191" stroke="#767676"/><line x1="927.5" y1="200" x2="927.5" y2="200.4" stroke="#767676"/><rect x="925.5" y="191.5" width="4" height="8" fill="#c9dbf5" stroke="#1e5a32" stroke-width="1"/><line x1="933.5" y1="181.1" x2="933.5" y2="194" stroke="#767676"/><line x1="933.5" y1="206" x2="933.5" y2="218.6" stroke="#767676"/><rect x="931.5" y="194.5" width="4" height="11" fill="none" stroke="#c0d4f7" stroke-width="1"/><line x1="939.5" y1="184.5" x2="939.5" y2="197" stroke="#767676"/><rect x="937.5" y="197.5" width="4" height="12" fill="#fff" stroke="#000" stroke-width="1"/><line x1="945.5" y1="200" x2="945.5" y2="205.7" stroke="#767676"/><rect x="943.5" y="151.5" width="4" height="48" fill="none" stroke="#c0d4f7" stroke-width="1"/><line x1="951.5" y1="134.1" x2="951.5" y2="144" stroke="#767676"/><line x1="951.5" y1="182" x2="951.5" y2="188.6" stroke="#767676"/><rect x="949.0" y="144" width="5" height="38" fill="#5a0000"/><rect x="950.0" y="145" width="3" height="36" fill="#000"/><line x1="957.5" y1="137.0" x2="957.5" y2="154" stroke="#767676"/><line x1="957.5" y1="172" x2="957.5" y2="179.6" stroke="#767676"/><rect x="955.5" y="154.5" width="4" height="17" fill="none" stroke="#c0d4f7" stroke-width="1"/><line x1="963.5" y1="112.9" x2="963.5" y2="124" stroke="#767676"/><line x1="963.5" y1="148" x2="963.5" y2="150.6" stroke="#767676"/><rect x="961.5" y="124.5" width="4" height="23" fill="none" stroke="#c0d4f7" stroke-width="1"/><line x1="969.5" y1="167.1" x2="969.5" y2="168" stroke="#767676"/><line x1="969.5" y1="195" x2="969.5" y2="205.7" stroke="#767676"/><rect x="967.0" y="168" width="5" height="27" fill="#5a0000"/><rect x="968.0" y="169" width="3" height="25" fill="#000"/><line x1="975.5" y1="184.1" x2="975.5" y2="189" stroke="#767676"/><line x1="975.5" y1="225" x2="975.5" y2="229.5" stroke="#767676"/><rect x="973.0" y="189" width="5" height="36" fill="#5a0000"/><rect x="974.0" y="190" width="3" height="34" fill="#000"/><line x1="981.5" y1="206.2" x2="981.5" y2="219" stroke="#767676"/><rect x="979.0" y="219" width="5" height="46" fill="#5a0000"/><rect x="980.0" y="220" width="3" height="44" fill="#000"/></g>
<path fill="none" stroke="#4f4ff7" stroke-width="1" d="M8,568.6 C10.15,567.93 17.45,566.08 20.9,564.6 C24.35,563.12 25.57,561.43 28.7,559.7 C31.83,557.97 35.67,556.52 39.7,554.2 C43.73,551.88 47.02,549.10 52.9,545.8 C58.78,542.50 69.12,537.63 75,534.4 C80.88,531.17 84.17,528.62 88.2,526.4 C92.23,524.18 95.33,522.63 99.2,521.1 C103.07,519.57 107.35,519.32 111.4,517.2 C115.45,515.08 119.65,511.27 123.5,508.4 C127.35,505.53 130.83,502.40 134.5,500 C138.17,497.60 141.45,496.10 145.5,494 C149.55,491.90 154.75,489.60 158.8,487.4 C162.85,485.20 165.77,482.53 169.8,480.8 C173.83,479.07 178.97,478.37 183,477 C187.03,475.63 189.95,474.17 194,472.6 C198.05,471.03 202.15,469.80 207.3,467.6 C212.45,465.40 219.95,461.32 224.9,459.4 C229.85,457.48 233.48,456.57 237,456.1 C240.52,455.63 242.30,456.68 246,456.6 C249.70,456.52 254.80,455.95 259.2,455.6 C263.60,455.25 267.98,455.05 272.4,454.5 C276.82,453.95 282.38,452.63 285.7,452.3 C289.02,451.97 289.00,452.32 292.3,452.5 C295.60,452.68 301.10,452.98 305.5,453.4 C309.90,453.82 313.18,454.77 318.7,455.0 C324.22,455.23 333.08,454.48 338.6,454.8 C344.12,455.12 347.40,456.25 351.8,456.9 C356.20,457.55 361.03,458.00 365,458.7 C368.97,459.40 372.73,460.70 375.6,461.1 C378.47,461.50 379.55,461.77 382.2,461.1 C384.85,460.43 387.53,459.08 391.5,457.1 C395.47,455.12 401.17,452.03 406,449.2 C410.83,446.37 414.68,443.25 420.5,440.1 C426.32,436.95 435.78,433.30 440.9,430.3 C446.02,427.30 447.10,425.68 451.2,422.1 C455.30,418.52 460.38,414.25 465.5,408.8 C470.62,403.35 476.15,396.58 481.9,389.4 C487.65,382.22 495.47,371.08 500,365.7 C504.53,360.32 506.08,359.65 509.1,357.1 C512.12,354.55 515.38,352.00 518.1,350.4 C520.82,348.80 522.98,348.03 525.4,347.5 C527.82,346.97 529.58,347.87 532.6,347.2 C535.62,346.53 538.65,344.35 543.5,343.5 C548.35,342.65 556.87,342.85 561.7,342.1 C566.53,341.35 569.18,339.73 572.5,339 C575.82,338.27 577.37,338.52 581.6,337.7 C585.83,336.88 593.37,335.00 597.9,334.1 C602.43,333.20 605.17,333.20 608.8,332.3 C612.43,331.40 616.67,329.55 619.7,328.7 C622.73,327.85 623.98,327.20 627,327.2 C630.02,327.20 634.18,328.15 637.8,328.7 C641.42,329.25 645.07,330.08 648.7,330.5 C652.33,330.92 655.37,331.45 659.6,331.2 C663.83,330.95 670.17,329.07 674.1,329 C678.03,328.93 678.97,329.35 683.2,330.8 C687.43,332.25 693.37,334.38 699.5,337.7 C705.63,341.02 714.12,346.73 720,350.7 C725.88,354.67 729.85,357.97 734.8,361.5 C739.75,365.03 745.25,368.68 749.7,371.9 C754.15,375.12 757.55,377.58 761.5,380.8 C765.45,384.02 769.43,387.73 773.4,391.2 C777.37,394.67 781.33,398.52 785.3,401.6 C789.27,404.68 793.25,407.35 797.2,409.7 C801.15,412.05 805.55,414.13 809,415.7 C812.45,417.27 814.93,418.98 817.9,419.1 C820.87,419.22 823.33,417.47 826.8,416.4 C830.27,415.33 834.98,414.55 838.7,412.7 C842.42,410.85 845.13,407.40 849.1,405.3 C853.07,403.20 857.80,401.28 862.5,400.1 C867.20,398.92 872.55,398.68 877.3,398.2 C882.05,397.72 886.88,397.82 891,397.2 C895.12,396.58 897.95,395.32 902,394.5 C906.05,393.68 911.25,393.60 915.3,392.3 C919.35,391.00 922.63,389.18 926.3,386.7 C929.97,384.22 933.27,380.97 937.3,377.4 C941.33,373.83 946.10,369.90 950.5,365.3 C954.90,360.70 960.20,353.12 963.7,349.8 C967.20,346.48 968.55,346.95 971.5,345.4 C974.45,343.85 979.75,341.32 981.4,340.5"/>
<line x1="919.3" y1="260.2" x2="928.5" y2="264.3" stroke="#bbb" stroke-width="0.8"/><line x1="928.5" y1="245.1" x2="928.5" y2="264.3" stroke="#2a2a2a" stroke-width="1"/><path d="M929.6,245.1 L935.8,245.1 L935.8,246.3 L943.8,246.3 L940,250.5 L943.8,254.8 L935.8,254.8 L935.8,253.8 L929.6,253.8 Z" fill="#2f8a58"/>
<line x1="962.1" y1="130.9" x2="970.5" y2="135.6" stroke="#bbb" stroke-width="0.8"/><line x1="970.5" y1="116" x2="970.5" y2="135.6" stroke="#2a2a2a" stroke-width="1"/><path d="M971.5,116.0 L978.1,116.0 L978.1,116.9 L985.8,116.9 L982.5,121.4 L985.8,125.9 L978.1,125.9 L978.1,124.6 L971.5,124.6 Z" fill="#2f8a58"/>
<circle cx="952.4" cy="117.3" r="7.5" fill="#1a8cf0"/>
<text x="952.7" y="121.8" font-family="Liberation Sans" font-size="9.5" fill="#fff" text-anchor="middle">P</text>
<line x1="8" y1="611.5" x2="1157" y2="611.5" stroke="#555" stroke-width="1"/>
<line x1="1156.5" y1="58" x2="1156.5" y2="612" stroke="#555" stroke-width="1"/>
<g stroke="#555" stroke-width="1"><line x1="1157" y1="589.5" x2="1160" y2="589.5"/><line x1="1157" y1="558.5" x2="1160" y2="558.5"/><line x1="1157" y1="526.5" x2="1160" y2="526.5"/><line x1="1157" y1="494.5" x2="1160" y2="494.5"/><line x1="1157" y1="463.5" x2="1160" y2="463.5"/><line x1="1157" y1="431.5" x2="1160" y2="431.5"/><line x1="1157" y1="399.5" x2="1160" y2="399.5"/><line x1="1157" y1="368.5" x2="1160" y2="368.5"/><line x1="1157" y1="336.5" x2="1160" y2="336.5"/><line x1="1157" y1="304.5" x2="1160" y2="304.5"/><line x1="1157" y1="273.5" x2="1160" y2="273.5"/><line x1="1157" y1="241.5" x2="1160" y2="241.5"/><line x1="1157" y1="209.5" x2="1160" y2="209.5"/><line x1="1157" y1="178.5" x2="1160" y2="178.5"/><line x1="1157" y1="146.5" x2="1160" y2="146.5"/><line x1="1157" y1="114.5" x2="1160" y2="114.5"/><line x1="1157" y1="83.5" x2="1160" y2="83.5"/><line x1="136.5" y1="612" x2="136.5" y2="615"/><line x1="268.5" y1="612" x2="268.5" y2="615"/><line x1="382.5" y1="612" x2="382.5" y2="615"/><line x1="514.5" y1="612" x2="514.5" y2="615"/><line x1="634.5" y1="612" x2="634.5" y2="615"/><line x1="760.5" y1="612" x2="760.5" y2="615"/><line x1="880.5" y1="612" x2="880.5" y2="615"/><line x1="1012.5" y1="612" x2="1012.5" y2="615"/><line x1="1138.5" y1="612" x2="1138.5" y2="615"/></g>
<g font-family="Liberation Sans" font-size="11" fill="#555"><text x="1162.5" y="593.5">5200.00</text><text x="1162.5" y="562.5">5240.00</text><text x="1162.5" y="530.5">5280.00</text><text x="1162.5" y="498.5">5320.00</text><text x="1162.5" y="467.5">5360.00</text><text x="1162.5" y="435.5">5400.00</text><text x="1162.5" y="403.5">5440.00</text><text x="1162.5" y="372.5">5480.00</text><text x="1162.5" y="340.5">5520.00</text><text x="1162.5" y="308.5">5560.00</text><text x="1162.5" y="277.5">5600.00</text><text x="1162.5" y="245.5">5640.00</text><text x="1162.5" y="213.5">5680.00</text><text x="1162.5" y="182.5">5720.00</text><text x="1162.5" y="150.5">5760.00</text><text x="1162.5" y="118.5">5800.00</text><text x="1162.5" y="87.5">5840.00</text><text x="135.5" y="625.5" text-anchor="middle">Nov</text><text x="267.5" y="625.5" text-anchor="middle">Dez</text><text x="381.5" y="625.5" text-anchor="middle" font-weight="bold" stroke="#555" stroke-width="0.3" font-size="11">2018</text><text x="513.5" y="625.5" text-anchor="middle">Fev</text><text x="633.5" y="625.5" text-anchor="middle">Mar</text><text x="759.5" y="625.5" text-anchor="middle">Abr</text><text x="879.5" y="625.5" text-anchor="middle">Mai</text><text x="1011.5" y="625.5" text-anchor="middle">Jun</text><text x="1137.5" y="625.5" text-anchor="middle">Jul</text></g>
<rect x="1156" y="105" width="50" height="15.7" fill="#7f5f00"/>
<line x1="1156" y1="112.5" x2="1159" y2="112.5" stroke="#fff" stroke-width="1"/>
<text x="1162.5" y="116.8" font-family="Liberation Sans" font-size="11" fill="#fff">5803.00</text>
<rect x="1156" y="273" width="50" height="15.7" fill="#000"/>
<line x1="1156" y1="280.5" x2="1159" y2="280.5" stroke="#fff" stroke-width="1"/>
<text x="1162.5" y="284.8" font-family="Liberation Sans" font-size="11" fill="#fff">5610.53</text>
<rect x="1156" y="288.7" width="50" height="15.7" fill="#7f5f00"/>
<line x1="1156" y1="296.5" x2="1159" y2="296.5" stroke="#fff" stroke-width="1"/>
<text x="1162.5" y="300.5" font-family="Liberation Sans" font-size="11" fill="#fff">5590.00</text>
<rect x="1156" y="341.1" width="50" height="15.7" fill="#7f5f00"/>
<line x1="1156" y1="348.5" x2="1159" y2="348.5" stroke="#fff" stroke-width="1"/>
<text x="1162.5" y="352.90000000000003" font-family="Liberation Sans" font-size="11" fill="#fff">5505.00</text>
<rect x="1156" y="363.1" width="50" height="15.7" fill="#f1c232"/>
<line x1="1156" y1="370.5" x2="1159" y2="370.5" stroke="#000" stroke-width="1"/>
<text x="1162.5" y="374.90000000000003" font-family="Liberation Sans" font-size="11" fill="#000">5477.00</text>
<rect x="1156" y="406.9" width="50" height="15.7" fill="#f1c232"/>
<line x1="1156" y1="414.5" x2="1159" y2="414.5" stroke="#000" stroke-width="1"/>
<text x="1162.5" y="418.7" font-family="Liberation Sans" font-size="11" fill="#000">5422.00</text>
<rect x="1156" y="485.1" width="50" height="15.7" fill="#7f5f00"/>
<line x1="1156" y1="492.5" x2="1159" y2="492.5" stroke="#fff" stroke-width="1"/>
<text x="1162.5" y="496.90000000000003" font-family="Liberation Sans" font-size="11" fill="#fff">5323.00</text>
<rect x="1156" y="517.2" width="50" height="15.7" fill="#f1c232"/>
<line x1="1156" y1="525.5" x2="1159" y2="525.5" stroke="#000" stroke-width="1"/>
<text x="1162.5" y="529.0" font-family="Liberation Sans" font-size="11" fill="#000">5283.00</text>
<text x="18" y="78" font-family="Liberation Sans" font-size="13" letter-spacing="0.45" fill="#000">MA (50, close, 0)</text>
<g>
<text x="21.5" y="594.6" font-family="Liberation Sans" font-size="22" font-weight="bold" fill="#111" stroke="#111" stroke-width="0.5" letter-spacing="-0.55">Investing</text>
<path d="M80.6,582.6 L83.9,577.4 L87.2,577.4 L84.6,582.6 Z" fill="#f7a21b"/>
<text x="111.6" y="595.2" font-family="Liberation Sans" font-size="14" fill="#3a3a3a">.com</text>
</g>
</svg>
</body></html>
